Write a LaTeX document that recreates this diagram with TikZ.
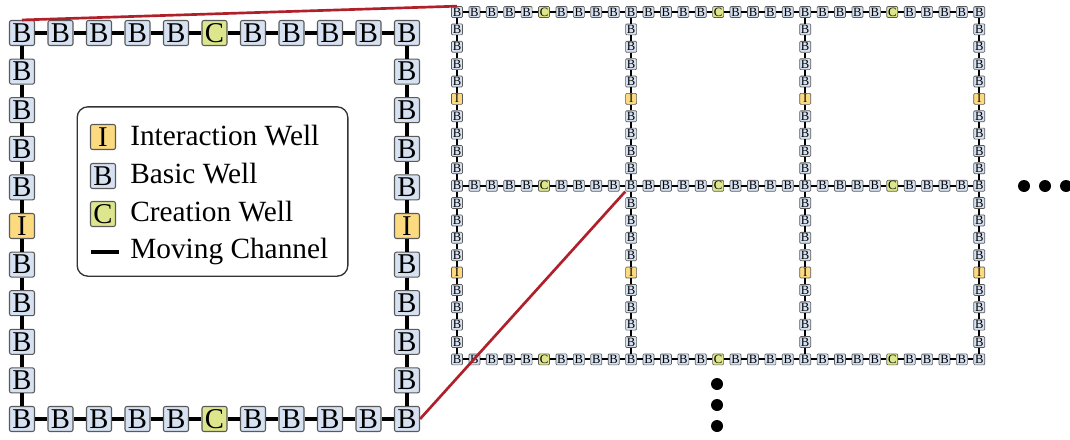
\documentclass[tikz,border=0pt]{standalone}
\usepackage{fontspec}
\setmainfont{Liberation Serif}
\definecolor{bfill}{HTML}{D6E2F2}
\definecolor{cfill}{HTML}{DDE68C}
\definecolor{ifill}{HTML}{FCDA80}
\definecolor{wborder}{HTML}{5A5A5A}
\definecolor{legborder}{HTML}{333333}
\definecolor{zoomred}{HTML}{B0202A}
\tikzset{
  bigwell/.style={draw=wborder, line width=0.8pt, rounded corners=1.5pt, minimum size=18.75pt, inner sep=0pt, font=\fontsize{21.5}{21.5}\selectfont},
  smallwell/.style={draw=wborder, line width=0.5pt, rounded corners=0.8pt, minimum size=8.25pt, inner sep=0pt, font=\fontsize{9.5}{9.5}\selectfont},
  typeB/.style={fill=bfill},
  typeC/.style={fill=cfill},
  typeI/.style={fill=ifill},
  bigchan/.style={line width=2.4pt, black},
  smallchan/.style={line width=1.6pt, black},
  legtext/.style={inner sep=0pt, font=\fontsize{22}{22}\selectfont},
  legframe/.style={draw=legborder, line width=1pt, rounded corners=8pt},
  zoomline/.style={draw=zoomred, line width=2pt},
  dotmark/.style={circle, fill=black, inner sep=0pt, minimum size=9pt},
}
\begin{document}
\begin{tikzpicture}[x=0.75pt,y=-0.75pt]
\useasboundingbox (0,0) rectangle (1070,439);

% ---- large cell ----
\foreach \X in {0,...,10}{
  \foreach \Y in {0,...,10}{
    \pgfmathtruncatemacro\mx{mod(\X,10)}
    \pgfmathtruncatemacro\my{mod(\Y,10)}
    \pgfmathtruncatemacro\on{(\mx==0)||(\my==0)}
    \ifnum\on=1
      \def\wt{B}
      \ifnum\my=0 \ifnum\mx=5 \def\wt{C}\fi\fi
      \ifnum\mx=0 \ifnum\my=5 \def\wt{I}\fi\fi
      \node[bigwell, type\wt] (b-\X-\Y) at ({22+38.5*\X},{33+38.6*\Y}) {\wt};
    \fi
  }
}
\foreach \Y in {0,10}{
  \foreach \X [evaluate=\X as \Xn using int(\X+1)] in {0,...,9}{
    \draw[bigchan] (b-\X-\Y) -- (b-\Xn-\Y);
  }
}
\foreach \X in {0,10}{
  \foreach \Y [evaluate=\Y as \Yn using int(\Y+1)] in {0,...,9}{
    \draw[bigchan] (b-\X-\Y) -- (b-\X-\Yn);
  }
}

% ---- small grid ----
\foreach \X in {0,...,30}{
  \foreach \Y in {0,...,20}{
    \pgfmathtruncatemacro\mx{mod(\X,10)}
    \pgfmathtruncatemacro\my{mod(\Y,10)}
    \pgfmathtruncatemacro\on{(\mx==0)||(\my==0)}
    \ifnum\on=1
      \def\wt{B}
      \ifnum\my=0 \ifnum\mx=5 \def\wt{C}\fi\fi
      \ifnum\mx=0 \ifnum\my=5 \def\wt{I}\fi\fi
      \node[smallwell, type\wt] (s-\X-\Y) at ({457+17.41*\X},{12+17.37*\Y}) {\wt};
    \fi
  }
}
\foreach \Y in {0,10,20}{
  \foreach \X [evaluate=\X as \Xn using int(\X+1)] in {0,...,29}{
    \draw[smallchan] (s-\X-\Y) -- (s-\Xn-\Y);
  }
}
\foreach \X in {0,10,20,30}{
  \foreach \Y [evaluate=\Y as \Yn using int(\Y+1)] in {0,...,19}{
    \draw[smallchan] (s-\X-\Y) -- (s-\X-\Yn);
  }
}

% ---- legend ----
\node[legframe, minimum width=203pt, minimum height=127pt] (legend) at (212.5,191.5) {};
\node[bigwell, typeI] (legI) at (103,137) {I};
\node[bigwell, typeB] (legB) at (103,176) {B};
\node[bigwell, typeC] (legC) at (103,214) {C};
\coordinate (chanA) at (91,252);
\coordinate (chanB) at (119,252);
\draw[bigchan] (chanA) -- (chanB);
\node[legtext, anchor=base west] (legIt) at (130,145.5) {Interaction Well};
\node[legtext, anchor=base west] (legBt) at (130,183) {Basic Well};
\node[legtext, anchor=base west] (legCt) at (130,221) {Creation Well};
\node[legtext, anchor=base west] (legMt) at (130,258) {Moving Channel};

% ---- continuation dots ----
\node[dotmark] (dr1) at (1024,186) {};
\node[dotmark] (dr2) at (1045,186) {};
\node[dotmark] (dr3) at (1066,186) {};
\node[dotmark] (dd1) at (717,384) {};
\node[dotmark] (dd2) at (717,405) {};
\node[dotmark] (dd3) at (717,426) {};

% ---- zoom lines ----
\draw[zoomline] (b-0-0.north) -- (s-0-0.north);
\draw[zoomline] (b-10-10.east) -- (s-10-10.south west);
\end{tikzpicture}
\end{document}
